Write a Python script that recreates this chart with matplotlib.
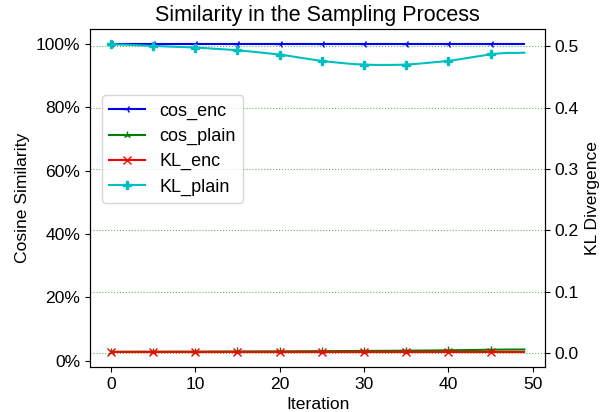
import matplotlib
matplotlib.use("Agg")
import matplotlib.pyplot as plt
from matplotlib.ticker import PercentFormatter

plt.rcParams['font.family'] = ['Liberation Sans', 'DejaVu Sans']
plt.rcParams['font.size'] = 12.6

iterations = list(range(50))

# cosine similarity (left axis)
cos_enc = [0.9986, 0.9986, 0.9986, 0.9986, 0.9986, 0.9986, 0.9986, 0.9986, 0.9986, 0.9986,
           0.9986, 0.9986, 0.9986, 0.9986, 0.9986, 0.9986, 0.9986, 0.9986, 0.9986, 0.9986,
           0.9986, 0.9986, 0.9986, 0.9986, 0.9986, 0.9986, 0.9986, 0.9986, 0.9986, 0.9986,
           0.9986, 0.9986, 0.9986, 0.9986, 0.9986, 0.9986, 0.9986, 0.9986, 0.9986, 0.9986,
           0.9986, 0.9986, 0.9986, 0.9986, 0.9986, 0.9986, 0.9986, 0.9986, 0.9986, 0.9986]
cos_plain = [0.0285, 0.0285, 0.0286, 0.0286, 0.0287, 0.0287, 0.0288, 0.0288, 0.0289, 0.0289,
             0.0290, 0.0290, 0.0291, 0.0292, 0.0293, 0.0293, 0.0294, 0.0295, 0.0296, 0.0297,
             0.0298, 0.0299, 0.0300, 0.0301, 0.0302, 0.0303, 0.0304, 0.0306, 0.0307, 0.0308,
             0.0310, 0.0311, 0.0313, 0.0314, 0.0316, 0.0318, 0.0320, 0.0322, 0.0324, 0.0327,
             0.0330, 0.0333, 0.0336, 0.0340, 0.0344, 0.0348, 0.0351, 0.0353, 0.0354, 0.0355]

# KL divergence (right axis)
kl_enc = [0.0026, 0.0026, 0.0026, 0.0026, 0.0026, 0.0026, 0.0026, 0.0026, 0.0026, 0.0026,
          0.0026, 0.0026, 0.0026, 0.0026, 0.0026, 0.0026, 0.0026, 0.0026, 0.0026, 0.0026,
          0.0026, 0.0026, 0.0026, 0.0026, 0.0026, 0.0026, 0.0026, 0.0026, 0.0026, 0.0026,
          0.0026, 0.0026, 0.0026, 0.0026, 0.0026, 0.0026, 0.0026, 0.0026, 0.0026, 0.0026,
          0.0026, 0.0026, 0.0026, 0.0026, 0.0026, 0.0026, 0.0026, 0.0026, 0.0026, 0.0026]
kl_plain = [0.5030, 0.5025, 0.5020, 0.5014, 0.5008, 0.5002, 0.4997, 0.4991, 0.4986, 0.4981,
            0.4976, 0.4968, 0.4959, 0.4950, 0.4941, 0.4932, 0.4919, 0.4905, 0.4891, 0.4876,
            0.4862, 0.4842, 0.4820, 0.4799, 0.4778, 0.4757, 0.4743, 0.4729, 0.4716, 0.4705,
            0.4698, 0.4694, 0.4693, 0.4693, 0.4695, 0.4698, 0.4708, 0.4720, 0.4733, 0.4745,
            0.4757, 0.4778, 0.4800, 0.4822, 0.4844, 0.4866, 0.4880, 0.4889, 0.4888, 0.4892]

fig, ax = plt.subplots(figsize=(6.05, 4.12), dpi=100)
fig.subplots_adjust(left=0.149, right=0.901, bottom=0.109, top=0.930)
ax2 = ax.twinx()

l1, = ax.plot(iterations, cos_enc, color='b', marker='3', markevery=5, lw=1.5, label='cos_enc')
l2, = ax.plot(iterations, cos_plain, color='g', marker='2', markevery=5, lw=1.5, label='cos_plain')
l3, = ax2.plot(iterations, kl_enc, color='r', marker='x', markevery=5, lw=1.5, label='KL_enc')
l4, = ax2.plot(iterations, kl_plain, color='c', marker='P', markevery=5, lw=1.5, label='KL_plain')

ax.yaxis.set_major_formatter(PercentFormatter(1.0, decimals=0))
ax.set_xlabel('Iteration')
ax.set_ylabel('Cosine Similarity')
ax2.set_ylabel('KL Divergence')
ax.set_title('Similarity in the Sampling Process', fontsize=15.5)

ax2.grid(color='g', linestyle=':', linewidth=0.8, alpha=0.6)

ax2.legend(handles=[l1, l2, l3, l4], loc='upper left', bbox_to_anchor=(0.006, 0.83),
           fontsize=13, labelspacing=0.45)

plt.savefig('out.png')
